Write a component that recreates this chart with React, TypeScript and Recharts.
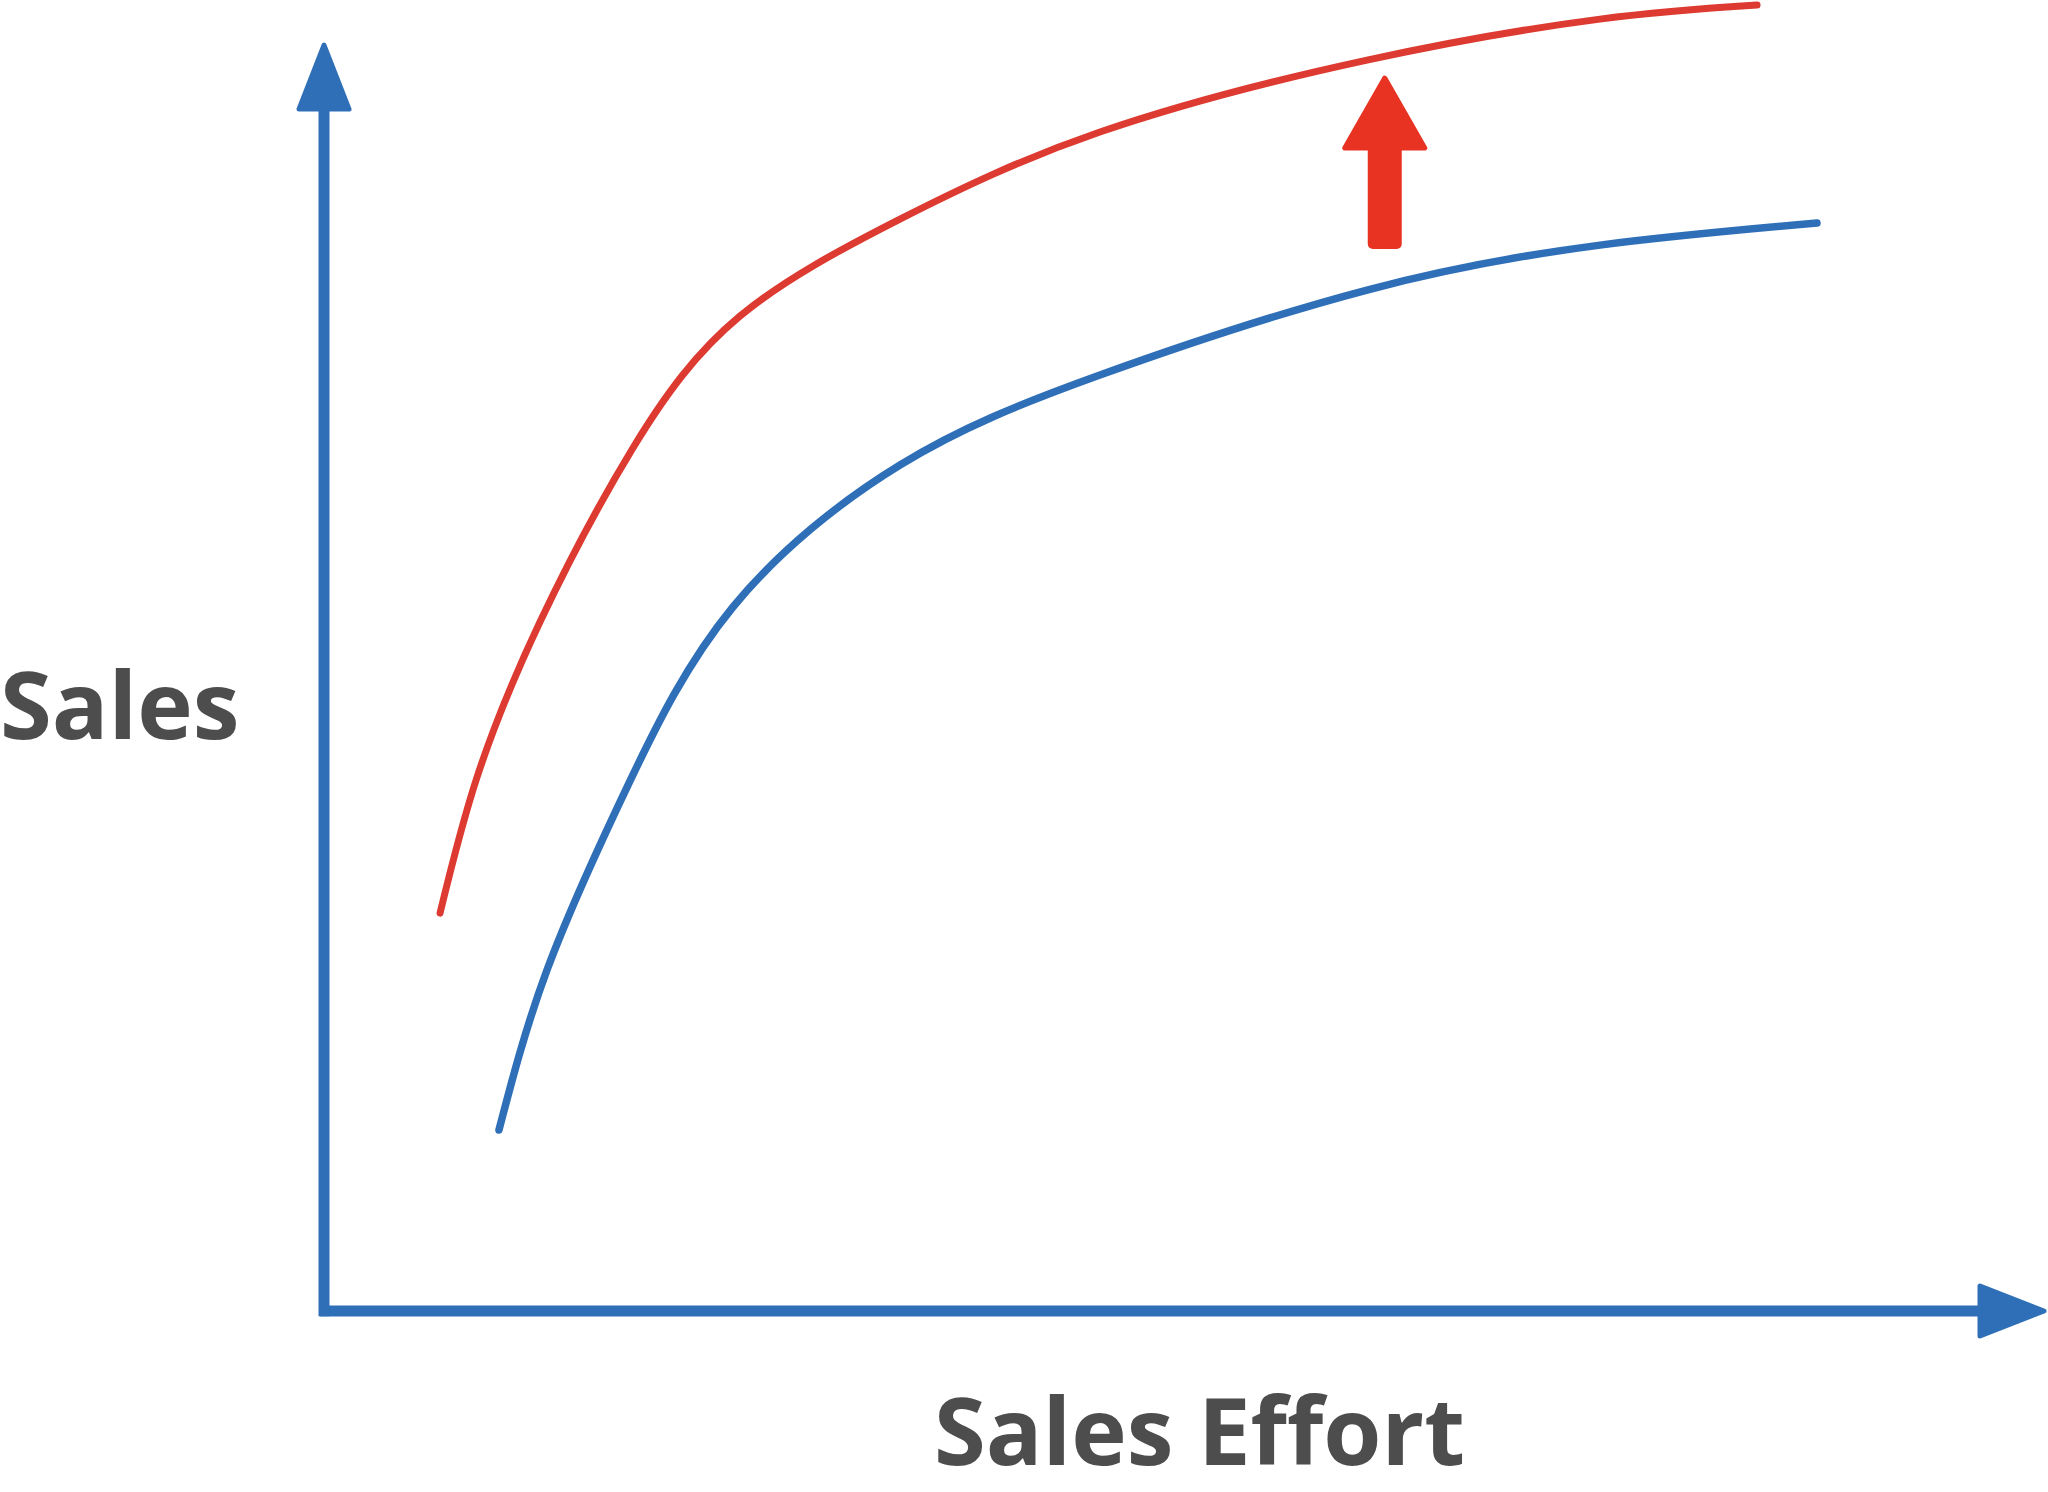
import { LineChart, Line, XAxis, YAxis, ReferenceLine, ReferenceDot } from 'recharts';

// upper (improved) response curve
const effortHigh = [6.74, 8.89, 12.54, 17.94, 24.16, 33.45, 45.06, 60.57, 74.1, 83.22];
const salesHigh = [31.36, 42.08, 54.29, 68.01, 78.41, 86.05, 92.91, 98.58, 101.81, 102.92];

// lower (current) response curve
const effortLow = [10.16, 12.95, 17.6, 23.75, 33.45, 45.06, 60.57, 74.1, 86.7];
const salesLow = [14.26, 26.87, 41.29, 55.48, 66.67, 73.76, 80.46, 84.0, 85.74];

const xTitle = 'Sales Effort';
const yTitle = 'Sales';

const highData = effortHigh.map((effort, i) => ({ effort, sales: salesHigh[i] }));
const lowData = effortLow.map((effort, i) => ({ effort, sales: salesLow[i] }));

const AXIS_BLUE = '#2f6fb8';
const CURVE_RED = '#dd3b31';
const ARROW_RED = '#e83322';
const TEXT_GREY = '#4d4d4d';

const titleStyle = {
  fontFamily: '"Open Sans", sans-serif',
  fontWeight: 700,
  fontSize: 94,
  fill: TEXT_GREY,
};

function UpHead(props: any) {
  const { cx, cy } = props;
  const pts = `${cx},${cy + 3} ${cx + 25},${cy + 67} ${cx - 25},${cy + 67}`;
  return <polygon points={pts} fill={AXIS_BLUE} stroke={AXIS_BLUE} strokeWidth={5} strokeLinejoin="round" />;
}

function RightHead(props: any) {
  const { cx, cy } = props;
  const pts = `${cx - 2},${cy} ${cx - 66},${cy - 25} ${cx - 66},${cy + 25}`;
  return <polygon points={pts} fill={AXIS_BLUE} stroke={AXIS_BLUE} strokeWidth={5} strokeLinejoin="round" />;
}

function BigArrow(props: any) {
  const { cx, cy } = props;
  const head = `${cx},${cy + 3} ${cx + 40},${cy + 73} ${cx - 40},${cy + 73}`;
  return (
    <g>
      <polygon points={head} fill={ARROW_RED} stroke={ARROW_RED} strokeWidth={5} strokeLinejoin="round" />
      <rect x={cx - 17} y={cy + 70} width={34} height={104} rx={5} fill={ARROW_RED} />
    </g>
  );
}

export default function App() {
  return (
    <div style={{ width: 2048, height: 1492, background: '#fff' }}>
      <style>{'body{margin:0}'}</style>
      <LineChart width={2048} height={1492} margin={{ top: 4, right: 2, bottom: 0, left: 0 }}>
        <XAxis
          type="number"
          dataKey="effort"
          domain={[0, 100]}
          height={181}
          axisLine={false}
          tick={false}
          tickLine={false}
          label={(p: any) => (
            <text x={p.viewBox.x + 610} y={p.viewBox.y + 154} style={titleStyle}>
              {xTitle}
            </text>
          )}
        />
        <YAxis
          type="number"
          dataKey="sales"
          domain={[0, 103]}
          width={324}
          axisLine={false}
          tick={false}
          tickLine={false}
          label={(p: any) => (
            <text x={0} y={p.viewBox.y + 735} style={titleStyle}>
              {yTitle}
            </text>
          )}
        />
        <ReferenceLine
          segment={[{ x: -0.25, y: 0 }, { x: 96.6, y: 0 }]}
          stroke={AXIS_BLUE}
          strokeWidth={11}
          ifOverflow="visible"
        />
        <ReferenceLine
          segment={[{ x: 0, y: -0.42 }, { x: 0, y: 95 }]}
          stroke={AXIS_BLUE}
          strokeWidth={11}
          ifOverflow="visible"
        />
        <ReferenceDot x={0} y={100} r={1} ifOverflow="visible" shape={UpHead} />
        <ReferenceDot x={100} y={0} r={1} ifOverflow="visible" shape={RightHead} />
        <Line
          data={lowData}
          dataKey="sales"
          type="natural"
          stroke={AXIS_BLUE}
          strokeWidth={7.5}
          strokeLinecap="round"
          dot={false}
          activeDot={false}
          isAnimationActive={false}
        />
        <Line
          data={highData}
          dataKey="sales"
          type="natural"
          stroke={CURVE_RED}
          strokeWidth={7}
          strokeLinecap="round"
          dot={false}
          activeDot={false}
          isAnimationActive={false}
        />
        <ReferenceDot x={61.6} y={97.4} r={1} ifOverflow="visible" shape={BigArrow} />
      </LineChart>
    </div>
  );
}
